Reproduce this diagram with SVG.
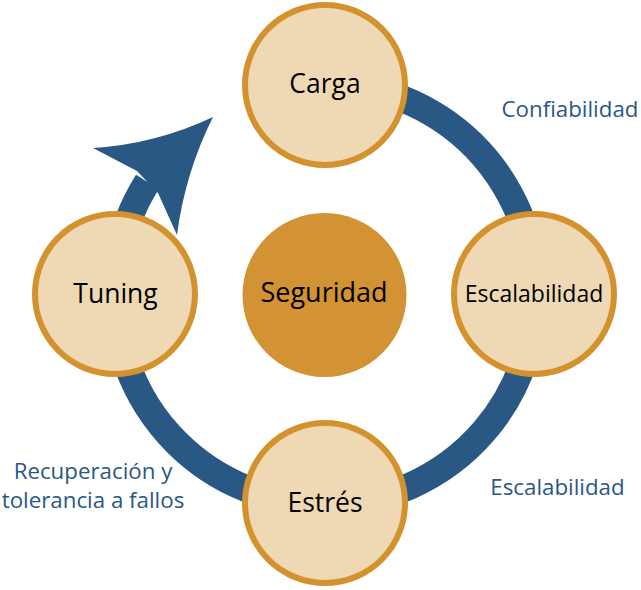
<svg xmlns="http://www.w3.org/2000/svg" width="641" height="590" viewBox="0 0 641 590">
<style>
.node circle{fill:#EED9B4;stroke:#D4922F;stroke-width:6}
.lbl{font-family:"Open Sans","Liberation Sans",sans-serif;fill:#000;text-anchor:middle}
.edge{font-family:"Open Sans","Liberation Sans",sans-serif;fill:#2A5885;text-anchor:middle;font-size:22.3px}
</style>
<rect width="641" height="590" fill="#fff"/>
<g id="connectors">
<path d="M 361.5 87.2 A 210 210 0 1 1 147.4 181.9" fill="none" stroke="#2A5885" stroke-width="27"/>
<path d="M 137 171 L 93 148 Q 156 144 213 117 Q 185 173 177 235 L 158 193 Z" fill="#2A5885"/>
</g>
<g id="carga" class="node"><circle cx="325" cy="85" r="80"/><text class="lbl" x="325" y="93" font-size="26.5">Carga</text></g>
<g id="escalabilidad" class="node"><circle cx="534" cy="294" r="80"/><text class="lbl" x="534" y="302" font-size="23">Escalabilidad</text></g>
<g id="estres" class="node"><circle cx="325" cy="503" r="80"/><text class="lbl" x="325" y="512" font-size="26.5">Estrés</text></g>
<g id="tuning" class="node"><circle cx="115" cy="294" r="80"/><text class="lbl" x="115.5" y="303" font-size="26.5">Tuning</text></g>
<g id="seguridad"><circle cx="324.5" cy="295" r="82" fill="#D39233"/><text class="lbl" x="324" y="302" font-size="27">Seguridad</text></g>
<g id="labels">
<text class="edge" x="570" y="117">Confiabilidad</text>
<text class="edge" x="557.5" y="495">Escalabilidad</text>
<text class="edge" x="93" y="479">Recuperación y</text>
<text class="edge" x="93" y="508">tolerancia a fallos</text>
</g>
</svg>
